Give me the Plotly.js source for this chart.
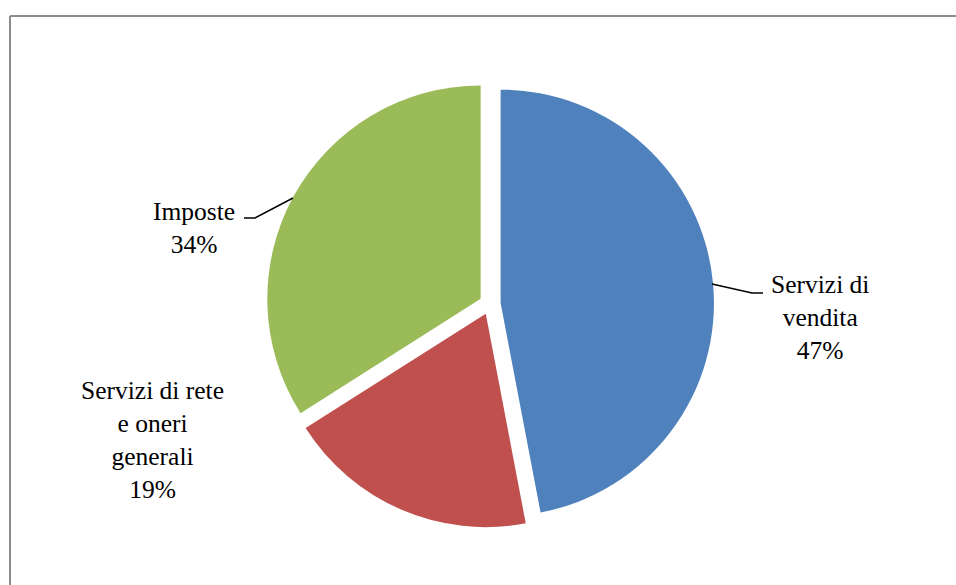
<!DOCTYPE html>
<html>
<head>
<meta charset="utf-8">
<script src="https://cdn.plot.ly/plotly-3.0.1.min.js"></script>
<style>html,body{margin:0;padding:0;background:#fff;}#chart{width:956px;height:585px;}</style>
</head>
<body>
<div id="chart"></div>
<script>
var categories = ["Servizi di vendita", "Servizi di rete e oneri generali", "Imposte"];
var labelLines = [["Servizi di", "vendita"], ["Servizi di rete", "e oneri", "generali"], ["Imposte"]];
var values = [47, 19, 34];
var colors = ["#4F81BD", "#C0504D", "#9BBB59"];

var W = 956, H = 585;
function px(x) { return x / W; }
function py(y) { return 1 - y / H; }

var total = values.reduce(function (a, b) { return a + b; }, 0);
function pct(v) { return Math.round(v / total * 100) + "%"; }

// label placement (layout only)
var labelPos = [
  {x: 820, y: 317},
  {x: 152, y: 440},
  {x: 194, y: 228}
];
var leaders = [
  [[712, 284], [752, 293], [763, 293]],
  null,
  [[293, 198], [255, 218], [244, 218]]
];

var annotations = categories.map(function (c, i) {
  var text = labelLines[i].join("<br>") + "<br>" + pct(values[i]);
  return {
    xref: "paper", yref: "paper",
    x: px(labelPos[i].x), y: py(labelPos[i].y),
    xanchor: "center", yanchor: "middle",
    text: text, showarrow: false, align: "center",
    font: {family: "Liberation Serif, serif", size: 25.5, color: "#000"}
  };
});

var shapes = [
  {type: "line", xref: "paper", yref: "paper", x0: px(10), x1: 1, y0: py(16), y1: py(16), line: {color: "#8c8c8c", width: 2}},
  {type: "line", xref: "paper", yref: "paper", x0: px(10), x1: px(10), y0: py(16), y1: 0, line: {color: "#8c8c8c", width: 2}}
];
leaders.forEach(function (l) {
  if (!l) return;
  var d = l.map(function (p, k) { return (k ? "L" : "M") + px(p[0]) + "," + py(p[1]); }).join(" ");
  shapes.push({type: "path", xref: "paper", yref: "paper", path: d, line: {color: "#000", width: 1.5}});
});

var trace = {
  type: "pie",
  labels: categories,
  values: values,
  sort: false,
  direction: "clockwise",
  rotation: 0,
  pull: [0.05, 0.05, 0.05],
  marker: {colors: colors, line: {width: 0}},
  textinfo: "none",
  hoverinfo: "label+percent",
  domain: {x: [px(266), px(714)], y: [py(528), py(80)]}
};

var layout = {
  width: W, height: H,
  margin: {l: 0, r: 0, t: 0, b: 0},
  paper_bgcolor: "#fff",
  showlegend: false,
  annotations: annotations,
  shapes: shapes
};

Plotly.newPlot("chart", [trace], layout, {displayModeBar: false, staticPlot: true});
</script>
</body>
</html>
